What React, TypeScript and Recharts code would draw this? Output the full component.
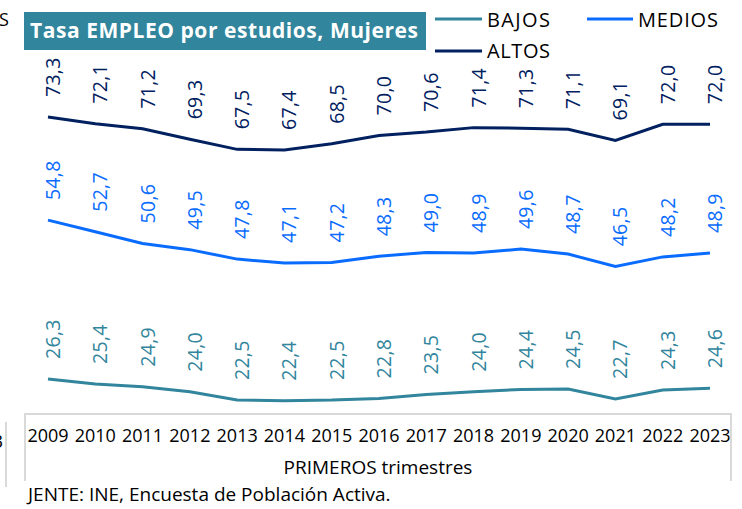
import React from "react";
import { LineChart, Line, XAxis, YAxis, LabelList } from "recharts";

const years = ["2009", "2010", "2011", "2012", "2013", "2014", "2015", "2016", "2017", "2018", "2019", "2020", "2021", "2022", "2023"];
const bajos = [26.3, 25.4, 24.9, 24.0, 22.5, 22.4, 22.5, 22.8, 23.5, 24.0, 24.4, 24.5, 22.7, 24.3, 24.6];
const medios = [54.8, 52.7, 50.6, 49.5, 47.8, 47.1, 47.2, 48.3, 49.0, 48.9, 49.6, 48.7, 46.5, 48.2, 48.9];
const altos = [73.3, 72.1, 71.2, 69.3, 67.5, 67.4, 68.5, 70.0, 70.6, 71.4, 71.3, 71.1, 69.1, 72.0, 72.0];

const BAJOS_COLOR = "#31859C";
const MEDIOS_COLOR = "#0A6CFF";
const ALTOS_COLOR = "#002060";
const FONT = "'Open Sans', sans-serif";

const data = years.map((year, i) => ({ year, bajos: bajos[i], medios: medios[i], altos: altos[i] }));

const fmt = (v: number) => v.toFixed(1).replace(".", ",");

// rotated value labels sitting above each point
const makeLabel = (color: string) => (props: any) => {
  const { x, y, value } = props;
  const tx = x + 12;
  const ty = y - 20;
  return (
    <text x={tx} y={ty} transform={`rotate(-90 ${tx} ${ty})`} fill={color} fontSize={19.5} letterSpacing={0.3} textAnchor="start">
      {fmt(value)}
    </text>
  );
};

const YearTick = (props: any) => {
  const { x, y, payload } = props;
  return (
    <text x={x} y={y + 20} textAnchor="middle" fontSize={18} fill="#000">
      {payload.value}
    </text>
  );
};

export default function App() {
  return (
    <div style={{ position: "absolute", left: 0, top: 0, width: 742, height: 509, fontFamily: FONT, background: "#fff" }}>
      <LineChart width={742} height={509} data={data} margin={{ top: 102, right: 32, left: 48, bottom: 65 }}>
        <XAxis dataKey="year" height={30} interval={0} axisLine={false} tickLine={false} tick={<YearTick />} />
        <YAxis hide domain={[20, 76]} />
        <Line type="linear" dataKey="altos" stroke={ALTOS_COLOR} strokeWidth={3} dot={false} isAnimationActive={false}>
          <LabelList dataKey="altos" content={makeLabel(ALTOS_COLOR)} />
        </Line>
        <Line type="linear" dataKey="medios" stroke={MEDIOS_COLOR} strokeWidth={3} dot={false} isAnimationActive={false}>
          <LabelList dataKey="medios" content={makeLabel(MEDIOS_COLOR)} />
        </Line>
        <Line type="linear" dataKey="bajos" stroke={BAJOS_COLOR} strokeWidth={3} dot={false} isAnimationActive={false}>
          <LabelList dataKey="bajos" content={makeLabel(BAJOS_COLOR)} />
        </Line>
      </LineChart>

      <svg width={742} height={509} style={{ position: "absolute", left: 0, top: 0, pointerEvents: "none" }}>
        {/* cropped bits of neighbouring charts */}
        <text x={-1} y={26} fontSize={18} fill="#000">S</text>
        <line x1={6} y1={422} x2={6} y2={487} stroke="#D9D9D9" strokeWidth={2} />
        <text x={3} y={448} fontSize={18} fill="#000" textAnchor="end">2023</text>

        {/* title */}
        <rect x={24} y={12} width={402} height={38} fill="#31859C" />
        <text x={30} y={38} fontSize={21} fontWeight="bold" fill="#fff" textLength={388} lengthAdjust="spacing">
          Tasa EMPLEO por estudios, Mujeres
        </text>

        {/* legend */}
        <line x1={435} y1={19} x2={482} y2={19} stroke={BAJOS_COLOR} strokeWidth={3} />
        <text x={487} y={27} fontSize={20} fill="#000" textLength={63} lengthAdjust="spacing">BAJOS</text>
        <line x1={587} y1={19} x2={633} y2={19} stroke={MEDIOS_COLOR} strokeWidth={3} />
        <text x={638} y={27} fontSize={20} fill="#000" textLength={80} lengthAdjust="spacing">MEDIOS</text>
        <line x1={435} y1={51} x2={482} y2={51} stroke={ALTOS_COLOR} strokeWidth={3} />
        <text x={487} y={58} fontSize={20} fill="#000" textLength={63} lengthAdjust="spacing">ALTOS</text>

        {/* axis box */}
        <path d="M25,481 V414 H731 V481" stroke="#D9D9D9" strokeWidth={2} fill="none" />
        <text x={378} y={474} fontSize={19} fill="#000" textAnchor="middle">PRIMEROS trimestres</text>
        <text x={28} y={501} fontSize={19} fill="#000">JENTE: INE, Encuesta de Población Activa.</text>
      </svg>
    </div>
  );
}
